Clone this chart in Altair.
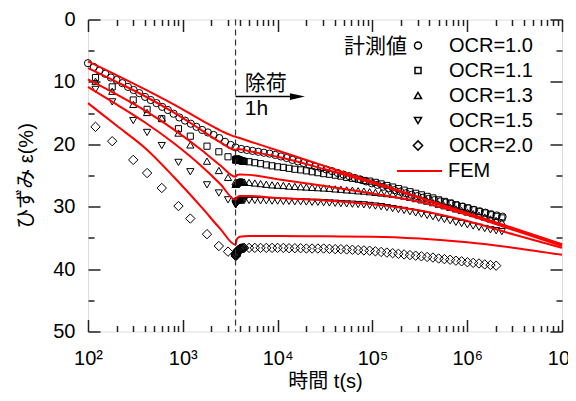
import altair as alt
import pandas as pd

# ---------------- data ----------------
OCR_LABELS = ["OCR=1.0", "OCR=1.1", "OCR=1.3", "OCR=1.5", "OCR=2.0"]
# circle, smaller square, triangles, larger diamond (custom paths sized inside the unit box)
SHAPES = ["circle",
          "M-0.85,-0.85L0.85,-0.85L0.85,0.85L-0.85,0.85Z",
          "triangle-up",
          "triangle-down",
          "M0,-1.3L1.3,0L0,1.3L-1.3,0Z"]

# OCR=1.0 measured (no unloading)
T_C_LOAD = [100, 115, 132, 152, 174, 200, 230, 264, 303, 348, 400, 459, 528, 606, 696,
            800, 919, 1056, 1213, 1393, 1600, 1838, 2111, 2425, 2786, 3200, 3600]
S_C_LOAD = [7.0, 7.6, 8.2, 8.7, 9.3, 9.7, 10.2, 10.8, 11.3, 11.8, 12.4, 12.9, 13.4, 14.0, 14.5,
            15.1, 15.7, 16.2, 16.7, 17.2, 17.7, 18.1, 18.5, 19.0, 19.6, 20.1, 20.5]
T_C_CREEP = [4130, 4740, 5440, 6250, 7170, 8230, 9450, 10850, 12450, 14300, 16400, 18800,
             21600, 24800, 28500, 32700, 37500, 43100, 49500, 56800, 65200, 74800, 85900,
             98600, 113000, 130000, 149000, 171000, 197000, 226000, 259000, 298000, 342000,
             392000, 450000, 517000, 593000, 681000, 782000, 897000, 1030000, 1183000,
             1358000, 1559000, 1790000, 2055000, 2360000]
S_C_CREEP = [20.75, 20.9, 21.05, 21.2, 21.35, 21.5, 21.7, 21.95, 22.2, 22.5, 22.75, 23.0,
             23.3, 23.55, 23.8, 24.05, 24.3, 24.6, 24.85, 25.1, 25.4, 25.65, 25.95, 26.25,
             26.5, 26.8, 27.05, 27.35, 27.6, 27.85, 28.1, 28.3, 28.55, 28.75, 28.95, 29.15,
             29.35, 29.55, 29.8, 30.0, 30.25, 30.5, 30.75, 30.95, 31.2, 31.4, 31.6]

# OCR>1 measured: loading stage, rebound right after unloading (1h), long-term creep
T_LOAD = [120, 180, 300, 420, 600, 900, 1200, 1800, 2400, 3000, 3600]
T_REBOUND = [3610, 3620, 3630, 3645, 3660, 3680, 3700, 3725, 3750, 3780, 3815, 3850, 3890,
             3935, 3985, 4040, 4100, 4170, 4250, 4340, 4440]
T_CREEP = [5000, 5750, 6610, 7600, 8740, 10000, 11500, 13200, 15200, 17500, 20100, 23100,
           26600, 30600, 35200, 40500, 46500, 53500, 61500, 70700, 81300, 93500, 107500,
           123600, 142200, 163500, 188000, 216000, 249000, 286000, 329000, 378000, 435000,
           500000, 575000, 661000, 760000, 874000, 1005000, 1156000, 1330000, 1530000,
           1760000, 2020000, 2320000]

S11_LOAD = [9.3, 10.8, 12.9, 14.4, 15.9, 17.5, 18.7, 20.3, 21.2, 22.0, 22.5]
S11_REB = [22.5, 22.5, 22.45, 22.45, 22.4, 22.4, 22.4, 22.4, 22.4, 22.4, 22.45, 22.45, 22.5,
           22.5, 22.55, 22.6, 22.6, 22.65, 22.7, 22.7, 22.75]
S11_CREEP = [22.8, 22.95, 23.1, 23.3, 23.45, 23.6, 23.7, 23.85, 24.0, 24.1, 24.25, 24.4,
             24.55, 24.7, 24.8, 24.95, 25.1, 25.3, 25.45, 25.6, 25.8, 25.9, 26.1, 26.35,
             26.6, 26.85, 27.1, 27.35, 27.6, 27.85, 28.1, 28.35, 28.6, 28.9, 29.15, 29.4,
             29.7, 29.95, 30.2, 30.5, 30.75, 31.0, 31.3, 31.55, 31.8]

S13_LOAD = [9.9, 11.5, 13.6, 14.9, 15.8, 18.2, 20.1, 22.7, 24.2, 25.3, 26.0]
S13_REB = [26.4, 26.4, 26.35, 26.3, 26.3, 26.25, 26.2, 26.2, 26.15, 26.1, 26.1, 26.05, 26.05,
           26.0, 26.0, 26.0, 26.0, 26.0, 26.0, 26.05, 26.05]
S13_CREEP = [26.1, 26.2, 26.3, 26.4, 26.5, 26.55, 26.6, 26.7, 26.75, 26.8, 26.85, 26.9,
             26.95, 27.0, 27.05, 27.15, 27.2, 27.3, 27.35, 27.45, 27.5, 27.6, 27.7, 27.8,
             27.9, 28.0, 28.1, 28.3, 28.5, 28.7, 28.9, 29.1, 29.35, 29.6, 29.85, 30.1,
             30.35, 30.6, 30.85, 31.1, 31.35, 31.65, 31.95, 32.2, 32.5]

S15_LOAD = [11.2, 13.2, 16.2, 18.1, 20.2, 22.9, 24.4, 26.5, 27.8, 28.9, 29.4]
S15_REB = [29.7, 29.65, 29.6, 29.5, 29.45, 29.4, 29.35, 29.3, 29.25, 29.2, 29.15, 29.1, 29.1,
           29.05, 29.05, 29.0, 29.0, 29.0, 29.0, 29.0, 29.0]
S15_CREEP = [29.0, 29.0, 29.05, 29.05, 29.1, 29.1, 29.15, 29.15, 29.2, 29.2, 29.25, 29.3,
             29.3, 29.35, 29.4, 29.45, 29.5, 29.55, 29.6, 29.65, 29.7, 29.8, 29.9, 30.0,
             30.15, 30.3, 30.45, 30.6, 30.8, 31.0, 31.2, 31.4, 31.6, 31.85, 32.05, 32.25,
             32.5, 32.7, 32.9, 33.1, 33.3, 33.5, 33.7, 33.85, 34.0]

S20_LOAD = [17.2, 19.5, 22.5, 24.6, 27.0, 29.9, 31.9, 34.4, 36.3, 37.2, 37.6]
S20_REB = [37.9, 37.9, 37.8, 37.7, 37.6, 37.5, 37.4, 37.3, 37.2, 37.1, 37.0, 36.95, 36.9,
           36.85, 36.8, 36.75, 36.7, 36.7, 36.65, 36.65, 36.6]
S20_CREEP = [36.6, 36.6, 36.6, 36.6, 36.6, 36.6, 36.6, 36.65, 36.65, 36.65, 36.7, 36.7,
             36.7, 36.7, 36.75, 36.8, 36.8, 36.85, 36.9, 36.95, 37.0, 37.05, 37.15, 37.25,
             37.35, 37.45, 37.55, 37.65, 37.75, 37.85, 37.95, 38.05, 38.15, 38.3, 38.4,
             38.5, 38.65, 38.75, 38.9, 39.0, 39.1, 39.25, 39.35, 39.45]

# FEM curves
T_FEM = [100, 200, 400, 800, 1600, 2500, 3600, 3715, 3980, 5000, 10000, 31600, 100000,
         316000, 1000000, 3160000, 10000000]
FEM_10 = [6.7, 8.9, 11.2, 13.6, 16.2, 17.8, 18.8, 18.85, 19.0, 19.5, 21.0, 23.5, 26.0, 28.5,
          31.0, 33.5, 36.0]
FEM_11 = [7.8, 10.0, 12.3, 14.9, 17.8, 19.7, 20.9, 20.8, 20.8, 21.1, 22.0, 24.0, 26.2, 28.6,
          31.1, 33.6, 36.1]
FEM_13 = [9.6, 12.0, 14.6, 17.6, 21.0, 23.4, 25.2, 24.95, 24.85, 24.9, 25.6, 26.7, 27.9,
          29.2, 31.3, 33.8, 36.3]
FEM_15 = [10.8, 13.6, 16.5, 19.8, 23.6, 26.4, 28.9, 28.5, 28.3, 28.3, 28.6, 29.0, 29.6,
          30.6, 32.3, 34.5, 36.6]
FEM_20 = [13.4, 17.0, 20.6, 25.2, 30.2, 33.6, 36.1, 35.2, 34.8, 34.7, 34.7, 34.75, 34.8,
          35.1, 35.7, 36.6, 37.7]

# annotation values
UNLOAD_T = 3600
ARROW_T = [3600, 15000]
ARROW_HEAD_T = 16200
ARROW_S = 12.35
LABEL_T = 4500
LABEL_TEXT = ["除荷", "1h"]
LABEL_S = [10.3, 14.3]
LEGEND_TITLE = "計測値"
LEGEND_TITLE_T = 232000
LEGEND_TITLE_S = 4.35

MAJ_X = [1e2, 1e3, 1e4, 1e5, 1e6, 1e7]
MIN_X = [k * 10 ** e for e in range(2, 7) for k in range(2, 10)]
MAJ_Y = [0, 10, 20, 30, 40, 50]
MIN_Y = [5, 15, 25, 35, 45]

# ---------------- tables ----------------
meas_rows = []
def add_meas(label, ts, ss):
    for t, s in zip(ts, ss, strict=True):
        meas_rows.append({"t": t, "strain": s, "ocr": label})

add_meas("OCR=1.0", T_C_LOAD + T_C_CREEP, S_C_LOAD + S_C_CREEP)
add_meas("OCR=1.1", T_LOAD + T_REBOUND + T_CREEP, S11_LOAD + S11_REB + S11_CREEP)
add_meas("OCR=1.3", T_LOAD + T_REBOUND + T_CREEP, S13_LOAD + S13_REB + S13_CREEP)
add_meas("OCR=1.5", T_LOAD + T_REBOUND + T_CREEP, S15_LOAD + S15_REB + S15_CREEP)
add_meas("OCR=2.0", T_LOAD + T_REBOUND + T_CREEP[:len(S20_CREEP)], S20_LOAD + S20_REB + S20_CREEP)
df_meas = pd.DataFrame(meas_rows)

fem_rows = []
for label, ss in zip(OCR_LABELS, [FEM_10, FEM_11, FEM_13, FEM_15, FEM_20], strict=True):
    for t, s in zip(T_FEM, ss, strict=True):
        fem_rows.append({"t": t, "strain": s, "ocr": label, "fem": "FEM"})
df_fem = pd.DataFrame(fem_rows)

df_dash = pd.DataFrame({"t": [UNLOAD_T], "s0": [0], "s1": [50]})
df_arrow = pd.DataFrame({"t": [ARROW_T[0]], "t2": [ARROW_T[1]], "s": [ARROW_S]})
df_head = pd.DataFrame({"t": [ARROW_HEAD_T], "s": [ARROW_S]})
df_text = pd.DataFrame({"t": [LABEL_T, LABEL_T], "s": LABEL_S, "txt": LABEL_TEXT})
df_ltitle = pd.DataFrame({"t": [LEGEND_TITLE_T], "s": [LEGEND_TITLE_S], "txt": [LEGEND_TITLE]})

# ---------------- chart ----------------
W, H = 474, 312
PAD_L, PAD_T = 80, 11.5
FONT = "Liberation Sans, Noto Sans CJK JP, sans-serif"
AX = "#222222"

x_scale = alt.Scale(type="log", domain=[100, 1e7], nice=False)
y_scale = alt.Scale(domain=[0, 50], reverse=True, nice=False, zero=False)

SUP = "['⁰','¹','²','³','⁴','⁵','⁶','⁷','⁸']"
x_lab = alt.Axis(orient="bottom", values=MAJ_X, labelExpr="'10' + " + SUP + "[round(log(datum.value)/LN10)]",
                 ticks=False, tickSize=0, domain=False, grid=False, labelFont=FONT, labelFontSize=20,
                 labelColor="black", labelPadding=17, labelFlush=False, labelOverlap=False,
                 title="時間 t(s)", titleFont=FONT, titleFontSize=20, titleFontWeight="normal",
                 titleColor="black", titlePadding=3)
y_lab = alt.Axis(orient="left", values=MAJ_Y, ticks=False, tickSize=0, domain=False, grid=False,
                 labelFont=FONT, labelFontSize=20, labelColor="black", labelPadding=13,
                 labelFlush=False, labelOverlap=False,
                 title="ひずみ ε(%)", titleFont=FONT, titleFontSize=20, titleFontWeight="normal",
                 titleColor="black", titlePadding=16)

shape_legend = alt.Legend(orient="none", legendX=320, legendY=16, title=None,
                          labelFont=FONT, labelFontSize=20, labelColor="black", labelOffset=21,
                          symbolSize=50, rowPadding=5, padding=0)
fem_legend = alt.Legend(title=None, orient="none", legendX=308, legendY=128, symbolType="stroke",
                        symbolSize=2025, symbolStrokeWidth=2, symbolStrokeColor="#ff0000",
                        labelFont=FONT, labelFontSize=20, labelColor="black", labelOffset=5, padding=0)

markers = alt.Chart(df_meas).mark_point(filled=False, color="black", strokeWidth=1, opacity=1, size=52).encode(
    x=alt.X("t:Q", scale=x_scale, axis=x_lab),
    y=alt.Y("strain:Q", scale=y_scale, axis=y_lab),
    shape=alt.Shape("ocr:N", scale=alt.Scale(domain=OCR_LABELS, range=SHAPES), legend=shape_legend),
)

lines = alt.Chart(df_fem).mark_line(strokeWidth=2, interpolate="monotone").encode(
    x=alt.X("t:Q", scale=x_scale, axis=None),
    y=alt.Y("strain:Q", scale=y_scale, axis=None),
    detail="ocr:N",
    color=alt.Color("fem:N", scale=alt.Scale(domain=["FEM"], range=["#ff0000"]), legend=fem_legend),
)


def tick_layer(x_orient, y_orient, xvals, yvals, size):
    ax_common = dict(labels=False, domain=False, grid=False, ticks=True, tickSize=size,
                     tickColor=AX, tickWidth=1.5, title=None)
    return alt.Chart(df_fem).mark_point(opacity=0).encode(
        x=alt.X("t:Q", scale=x_scale, axis=alt.Axis(orient=x_orient, offset=-H, values=xvals, **ax_common)),
        y=alt.Y("strain:Q", scale=y_scale, axis=alt.Axis(orient=y_orient, offset=-W, values=yvals, **ax_common)),
    )

ticks = [
    tick_layer("top", "right", MAJ_X, MAJ_Y, 12),
    tick_layer("top", "right", MIN_X, MIN_Y, 6),
    tick_layer("bottom", "left", MAJ_X, MAJ_Y, 12),
    tick_layer("bottom", "left", MIN_X, MIN_Y, 6),
]

dash = alt.Chart(df_dash).mark_rule(strokeDash=[6, 4], color="#333333", strokeWidth=1.2).encode(
    x=alt.X("t:Q", scale=x_scale, axis=None),
    y=alt.Y("s0:Q", scale=y_scale, axis=None),
    y2="s1:Q",
)
arrow = alt.Chart(df_arrow).mark_rule(color="black", strokeWidth=1.5).encode(
    x=alt.X("t:Q", scale=x_scale, axis=None), x2="t2:Q",
    y=alt.Y("s:Q", scale=y_scale, axis=None),
)
head = alt.Chart(df_head).mark_point(shape="M-1,-0.45L1,0L-1,0.45Z", filled=True, color="black",
                                     size=225, opacity=1).encode(
    x=alt.X("t:Q", scale=x_scale, axis=None),
    y=alt.Y("s:Q", scale=y_scale, axis=None),
)
texts = alt.Chart(df_text).mark_text(align="left", baseline="middle", font=FONT, fontSize=21,
                                     color="black").encode(
    x=alt.X("t:Q", scale=x_scale, axis=None),
    y=alt.Y("s:Q", scale=y_scale, axis=None),
    text="txt:N",
)
ltitle = alt.Chart(df_ltitle).mark_text(align="right", baseline="middle", font=FONT, fontSize=21,
                                        color="black").encode(
    x=alt.X("t:Q", scale=x_scale, axis=None),
    y=alt.Y("s:Q", scale=y_scale, axis=None),
    text="txt:N",
)

chart = alt.layer(markers, lines, *ticks, dash, arrow, head, texts, ltitle).resolve_axis(
    x="independent", y="independent"
).properties(
    width=W, height=H,
    autosize=alt.AutoSizeParams(type="none"),
    padding={"left": PAD_L, "top": PAD_T, "right": 576 - 16 - PAD_L - W, "bottom": 401 - 16 - PAD_T - H},
).configure_view(stroke=AX, strokeWidth=1.5).configure(font=FONT)

chart.save("out.html", embed_options={"renderer": "svg", "actions": False})
